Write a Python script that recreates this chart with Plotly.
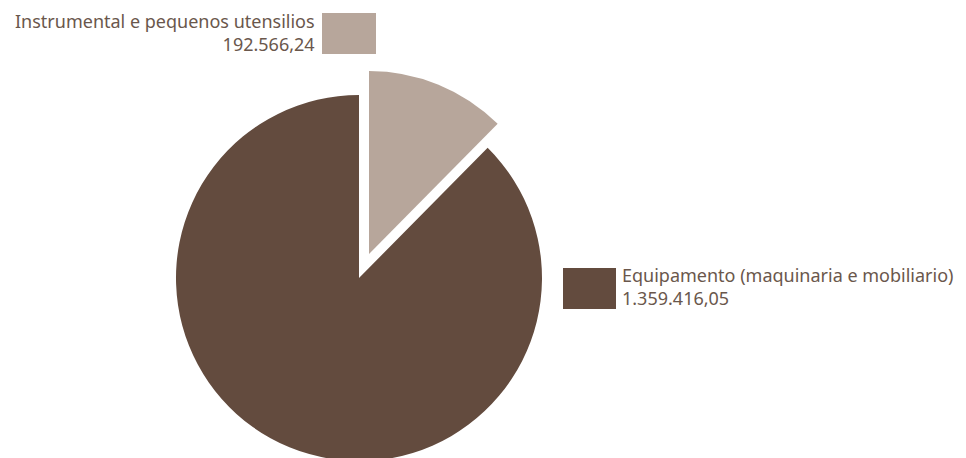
import plotly.graph_objects as go

# data
categories = ["Instrumental e pequenos utensilios", "Equipamento (maquinaria e mobiliario)"]
values = [192566.24, 1359416.05]
value_labels = ["192.566,24", "1.359.416,05"]
colors = ["#b7a69b", "#634b3e"]

W, H = 966, 458
txt_color = "#6a574c"


def px_x(v):
    return v / W


def px_y(v):
    return 1 - v / H


# exploded look: big slice drawn in one trace, small slice in a second trace
# whose domain is shifted along the slice bisector
fig = go.Figure()
fig.add_trace(go.Pie(
    labels=categories, values=values, sort=False, direction="clockwise",
    marker=dict(colors=["rgba(0,0,0,0)", colors[1]]),
    textinfo="none", hoverinfo="label+value", showlegend=False,
    domain=dict(x=[px_x(168), px_x(534)], y=[px_y(453), px_y(87)]),
))
fig.add_trace(go.Pie(
    labels=categories, values=values, sort=False, direction="clockwise",
    marker=dict(colors=[colors[0], "rgba(0,0,0,0)"]),
    textinfo="none", hoverinfo="label+value", showlegend=False,
    domain=dict(x=[px_x(178), px_x(544)], y=[px_y(429), px_y(63)]),
))

# swatches
fig.add_shape(type="rect", xref="paper", yref="paper",
              x0=px_x(314), x1=px_x(368), y0=px_y(46), y1=px_y(5),
              fillcolor=colors[0], line_width=0)
fig.add_shape(type="rect", xref="paper", yref="paper",
              x0=px_x(555), x1=px_x(608), y0=px_y(301), y1=px_y(260),
              fillcolor=colors[1], line_width=0)

fig.add_annotation(text=categories[0] + "<br>" + value_labels[0],
                   xref="paper", yref="paper", x=px_x(309), y=px_y(24),
                   xanchor="right", yanchor="middle", align="right",
                   showarrow=False)
fig.add_annotation(text=categories[1] + "<br>" + value_labels[1],
                   xref="paper", yref="paper", x=px_x(612), y=px_y(278),
                   xanchor="left", yanchor="middle", align="left",
                   showarrow=False)

fig.update_layout(
    width=W, height=H,
    margin=dict(l=0, r=0, t=0, b=0),
    paper_bgcolor="white", plot_bgcolor="white",
    font=dict(family="Noto Sans", size=18, color=txt_color),
)

fig.write_html("out.html")
